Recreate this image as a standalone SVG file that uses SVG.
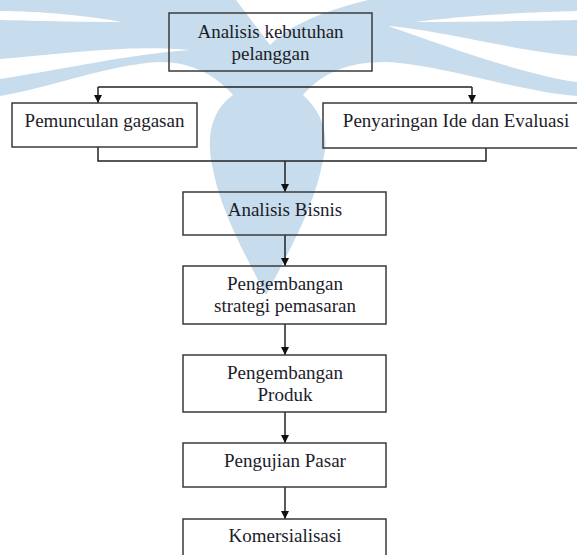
<svg xmlns="http://www.w3.org/2000/svg" width="577" height="555" viewBox="0 0 577 555">
<style>
.box{fill:none;stroke:#3a3a3a;stroke-width:1.5}
.t{font-family:"Liberation Serif","Times New Roman",serif;font-size:19px;fill:#1c1c2a;text-anchor:middle}
.c{fill:none;stroke:#222;stroke-width:1.5}
.wm{fill:#c7dcec}
.wg{fill:#ffffff}
</style>
<defs>
<marker id="ah" viewBox="0 0 10 10" refX="10" refY="5" markerWidth="8" markerHeight="8" markerUnits="userSpaceOnUse" orient="auto">
<path d="M0,0 L10,5 L0,10 Z" fill="#111"/>
</marker>
</defs>
<rect width="577" height="555" fill="#ffffff"/>
<g id="watermark">
<path class="wm" d="M0,0 L236,0 Q255,25 270,45 Q295,18 368,0 L577,0 L577,96 C520,92 440,64 385,62 C340,62 318,78 303,95 C322,112 330,135 323,160 C315,205 290,250 266,295 C245,255 220,210 212,165 C206,135 212,110 233,95 C218,78 195,62 160,62 C110,64 50,88 0,96 Z"/>
<path class="wg" d="M0,11 C40,11 90,16 122,22 C90,22 40,21 0,20 Z"/>
<path class="wg" d="M0,59 C60,54 130,44 190,50 C130,54 60,70 0,79 Z"/>
<path class="wg" d="M577,11 C530,12 460,16 415,22 C460,22 530,21 577,20 Z"/>
<path class="wg" d="M577,56 C520,52 440,30 388,26 C440,44 520,74 577,82 Z"/>
</g>
<g id="connectors">
<polyline class="c" points="98,87 472,87"/>
<line class="c" x1="98" y1="87" x2="98" y2="103" marker-end="url(#ah)"/>
<line class="c" x1="472" y1="87" x2="472" y2="103" marker-end="url(#ah)"/>
<polyline class="c" points="98,147 98,161 486,161 486,148"/>
<line class="c" x1="285" y1="161" x2="285" y2="192" marker-end="url(#ah)"/>
<line class="c" x1="285" y1="235" x2="285" y2="266" marker-end="url(#ah)"/>
<line class="c" x1="285" y1="324" x2="285" y2="355" marker-end="url(#ah)"/>
<line class="c" x1="285" y1="412" x2="285" y2="443" marker-end="url(#ah)"/>
<line class="c" x1="285" y1="487" x2="285" y2="519" marker-end="url(#ah)"/>
</g>
<g id="n1">
<rect class="box" x="169" y="13" width="203" height="58"/>
<text class="t" x="270.5" y="37.5">Analisis kebutuhan</text>
<text class="t" x="270.5" y="60">pelanggan</text>
</g>
<g id="n2">
<rect class="box" x="12" y="103" width="185" height="44"/>
<text class="t" x="104.5" y="126.5">Pemunculan gagasan</text>
</g>
<g id="n3">
<rect class="box" x="323" y="103" width="260" height="45"/>
<text class="t" x="456" y="126.5">Penyaringan Ide dan Evaluasi</text>
</g>
<g id="n4">
<rect class="box" x="183" y="192" width="203" height="43"/>
<text class="t" x="285" y="216">Analisis Bisnis</text>
</g>
<g id="n5">
<rect class="box" x="183" y="266" width="203" height="58"/>
<text class="t" x="285" y="290">Pengembangan</text>
<text class="t" x="285" y="312">strategi pemasaran</text>
</g>
<g id="n6">
<rect class="box" x="183" y="355" width="203" height="57"/>
<text class="t" x="285" y="378.5">Pengembangan</text>
<text class="t" x="285" y="400.5">Produk</text>
</g>
<g id="n7">
<rect class="box" x="183" y="443" width="203" height="44"/>
<text class="t" x="285" y="467">Pengujian Pasar</text>
</g>
<g id="n8">
<rect class="box" x="183" y="519" width="203" height="45"/>
<text class="t" x="285" y="542">Komersialisasi</text>
</g>
</svg>
